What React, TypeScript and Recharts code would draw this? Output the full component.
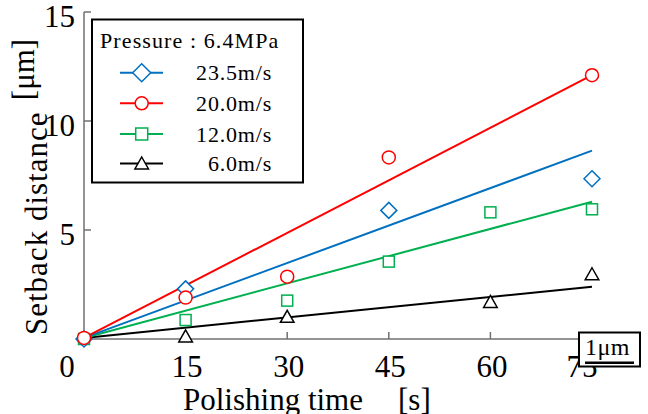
import React from 'react';
import { ComposedChart, Line, Scatter, XAxis, YAxis, Customized } from 'recharts';

const FONT = 'Liberation Serif';

// ---- data ----
const xTicks = [0, 15, 30, 45, 60, 75];
const yTicks = [5, 10, 15];
const topTicks = [15, 30, 45, 60];
const rightTicks = [5, 10];

const legendTitle = 'Pressure : 6.4MPa';
const speedLabels = ['23.5m/s', '20.0m/s', '12.0m/s', '6.0m/s'];
const seriesColors = ['#0070C0', '#FF0000', '#00B050', '#000000'];
const markerKinds = ['diamond', 'circle', 'square', 'triangle'];

const times235 = [0, 15, 45, 75];
const values235 = [0, 2.3, 5.9, 7.35];
const times200 = [0, 15, 30, 45, 75];
const values200 = [0.05, 1.9, 2.86, 8.33, 12.1];
const times120 = [0, 15, 30, 45, 60, 75];
const values120 = [0, 0.87, 1.76, 3.55, 5.81, 5.95];
const times60 = [15, 30, 60, 75];
const values60 = [0.12, 1.02, 1.7, 2.97];

const fitTimes = [0, 75];
const fit235 = [0.05, 8.64];
const fit200 = [0.05, 12.1];
const fit120 = [0.05, 6.3];
const fit60 = [0.05, 2.4];

const xLabel = 'Polishing time';
const xUnit = '[s]';
const yLabel = 'Setback distance';
const yUnit = '[μm]';
const scaleLabel = '1μm';

const zip = (ts: number[], vs: number[]) => ts.map((t, i) => ({ t, v: vs[i] }));

const pointSeries = [
  { data: zip(times60, values60), idx: 3 },
  { data: zip(times120, values120), idx: 2 },
  { data: zip(times235, values235), idx: 0 },
  { data: zip(times200, values200), idx: 1 },
];
const fitSeries = [
  { data: zip(fitTimes, fit60), idx: 3 },
  { data: zip(fitTimes, fit120), idx: 2 },
  { data: zip(fitTimes, fit235), idx: 0 },
  { data: zip(fitTimes, fit200), idx: 1 },
];

function Marker({ kind, cx, cy, color, big }: any) {
  const sw = 1.5;
  if (kind === 'diamond') {
    const r = big ? 9 : 8;
    return <path d={`M${cx},${cy - r}L${cx + r},${cy}L${cx},${cy + r}L${cx - r},${cy}Z`} fill="#fff" stroke={color} strokeWidth={sw} />;
  }
  if (kind === 'circle') return <circle cx={cx} cy={cy} r={6.5} fill="#fff" stroke={color} strokeWidth={sw} />;
  if (kind === 'square') {
    const h = big ? 6 : 5.5;
    return <rect x={cx - h} y={cy - h} width={2 * h} height={2 * h} fill="#fff" stroke={color} strokeWidth={sw} />;
  }
  return <path d={`M${cx},${cy - 6.5}L${cx + 6.8},${cy + 5.5}L${cx - 6.8},${cy + 5.5}Z`} fill="#fff" stroke={color} strokeWidth={sw} />;
}

const XTick = ({ x, y, payload }: any) => {
  const v = payload.value;
  const dx = v === 0 ? -17 : v === 75 ? -10 : 1.5;
  return (
    <text x={x + dx} y={y + 38} textAnchor="middle" fontFamily={FONT} fontSize={31} fill="#000">
      {v}
    </text>
  );
};

const YTick = ({ x, y, payload }: any) => (
  <text x={x} y={y + 15} textAnchor="end" fontFamily={FONT} fontSize={31} fill="#000">
    {payload.value}
  </text>
);

const Annotations = () => {
  const rows = [72.7, 103.3, 134, 163.5];
  return (
    <g>
      <text x={183} y={410} fontFamily={FONT} fontSize={31} fill="#000">{xLabel}</text>
      <text x={398} y={410} fontFamily={FONT} fontSize={31} fill="#000">{xUnit}</text>
      <text transform="rotate(-90)" x={-335} y={47} fontFamily={FONT} fontSize={31} letterSpacing={1} fill="#000">{yLabel}</text>
      <text transform="rotate(-90)" x={-69.5} y={34} textAnchor="middle" fontFamily={FONT} fontSize={31} fill="#000">{yUnit}</text>
      <rect x={92} y={19.5} width={211} height={163} fill="#fff" stroke="#000" strokeWidth={2} />
      <text x={100} y={48} fontFamily={FONT} fontSize={22} letterSpacing={1.1} fill="#000">{legendTitle}</text>
      {speedLabels.map((lab, i) => (
        <g key={lab}>
          <line x1={120} x2={163} y1={rows[i]} y2={rows[i]} stroke={seriesColors[i]} strokeWidth={2} />
          <Marker kind={markerKinds[i]} cx={141.7} cy={rows[i]} color={seriesColors[i]} big />
          <text x={272} y={rows[i] + 7.5} textAnchor="end" fontFamily={FONT} fontSize={22} letterSpacing={0.8} fill="#000">{lab}</text>
        </g>
      ))}
    </g>
  );
};

export default function App() {
  return (
    <div style={{ position: 'absolute', left: 0, top: 0, width: 648, height: 414, background: '#fff' }}>
      <ComposedChart width={648} height={414} margin={{ top: 12, right: 56, left: 0, bottom: 45 }}>
        <XAxis
          xAxisId="main"
          dataKey="t"
          type="number"
          domain={[0, 75]}
          ticks={xTicks}
          tick={<XTick />}
          tickSize={-7}
          tickMargin={7}
          height={30}
          stroke="#707070"
          strokeWidth={1.5}
          interval={0}
        />
        <XAxis
          xAxisId="top"
          orientation="top"
          type="number"
          domain={[0, 75]}
          ticks={topTicks}
          tick={false}
          tickSize={-7}
          height={0}
          stroke="#707070"
          strokeWidth={1.5}
          allowDataOverflow
        />
        <YAxis
          yAxisId="main"
          type="number"
          domain={[0, 15]}
          ticks={yTicks}
          tick={<YTick />}
          tickSize={-7}
          tickMargin={16}
          width={84}
          stroke="#707070"
          strokeWidth={1.5}
          interval={0}
        />
        <YAxis
          yAxisId="right"
          orientation="right"
          type="number"
          domain={[0, 15]}
          ticks={rightTicks}
          tick={false}
          tickSize={-7}
          width={0}
          stroke="#000"
          strokeWidth={1.5}
          allowDataOverflow
        />
        {fitSeries.map((s) => (
          <Line
            key={'fit' + s.idx}
            xAxisId="main"
            yAxisId="main"
            data={s.data}
            dataKey="v"
            type="linear"
            stroke={seriesColors[s.idx]}
            strokeWidth={2}
            dot={false}
            activeDot={false}
            isAnimationActive={false}
          />
        ))}
        {pointSeries.map((s) => (
          <Scatter
            key={'pts' + s.idx}
            xAxisId="main"
            yAxisId="main"
            data={s.data}
            dataKey="v"
            isAnimationActive={false}
            shape={(p: any) => <Marker kind={markerKinds[s.idx]} cx={p.cx} cy={p.cy} color={seriesColors[s.idx]} />}
          />
        ))}
        <Customized component={Annotations} />
      </ComposedChart>
      <svg width={648} height={414} style={{ position: 'absolute', left: 0, top: 0, pointerEvents: 'none' }}>
        <rect x={579} y={332.5} width={61} height={34} fill="#fff" stroke="#000" strokeWidth={2} />
        <text x={585} y={355} fontFamily={FONT} fontSize={24} letterSpacing={0.5} fill="#000">{scaleLabel}</text>
        <line x1={585} x2={634} y1={362.7} y2={362.7} stroke="#000" strokeWidth={2.5} />
      </svg>
    </div>
  );
}
